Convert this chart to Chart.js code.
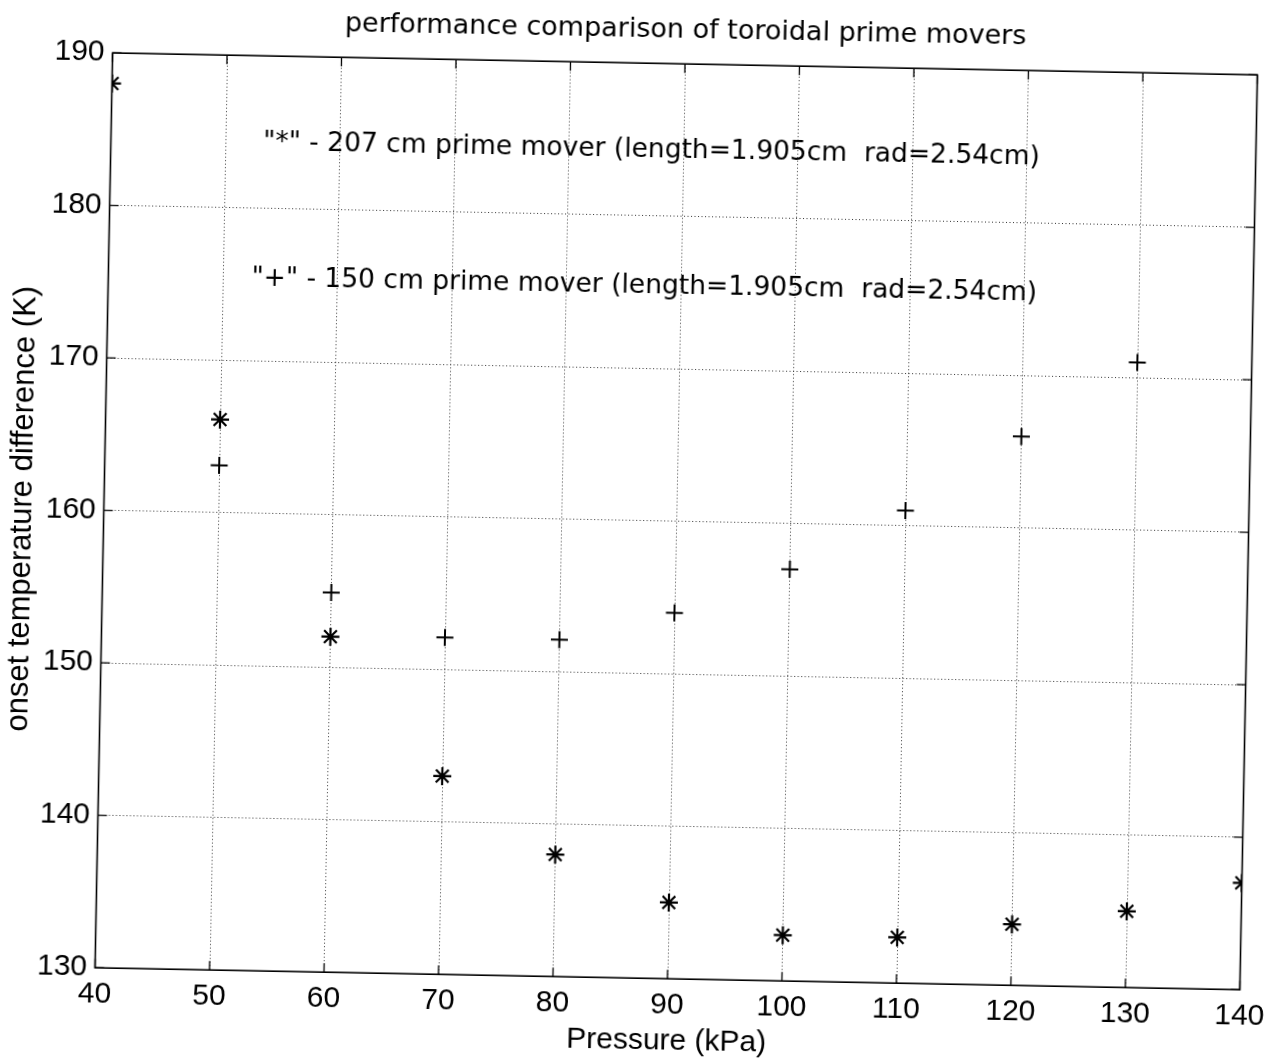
<!DOCTYPE html>
<html>
<head>
<meta charset="utf-8">
<title>performance comparison of toroidal prime movers</title>
<script src="https://cdn.jsdelivr.net/npm/chart.js@4"></script>
<style>
  html, body { margin: 0; padding: 0; background: #fff; overflow: hidden; }
  #wrap { position: absolute; left: 0; top: 0; width: 1284px; height: 1063px; }
  /* the scanned page is tilted a little */
  #perfChart { transform: rotate(1.1deg); transform-origin: 50% 50%; }
</style>
</head>
<body>
<div id="wrap"><canvas id="perfChart" width="1284" height="1063"></canvas></div>
<script>
// data
const pressureStar = [40, 50, 60, 70, 80, 90, 100, 110, 120, 130, 140];
const onsetStar = [188, 166.1, 152, 143, 138, 135, 133, 133, 134, 135, 137];
const pressurePlus = [50, 60, 70, 80, 90, 100, 110, 120, 130];
const onsetPlus = [163.1, 154.9, 152.1, 152.1, 154, 157, 161, 166, 171];
const xTicks = [40, 50, 60, 70, 80, 90, 100, 110, 120, 130, 140];
const yTicks = [130, 140, 150, 160, 170, 180, 190];

const titleText = 'performance comparison of toroidal prime movers';
const noteStar = '"*" - 207 cm prime mover (length=1.905cm  rad=2.54cm)';
const notePlus = '"+" - 150 cm prime mover (length=1.905cm  rad=2.54cm)';

document.addEventListener("DOMContentLoaded", function() {

    // box, inward ticks, title and the two text notes (matlab style)
    const matlabAxes = {
        id: 'matlabAxes',
        afterDraw(chart) {
            const ctx = chart.ctx;
            const a = chart.chartArea;
            const xs = chart.scales.x;
            const ys = chart.scales.y;
            ctx.save();
            ctx.setLineDash([]);
            ctx.strokeStyle = '#000';
            ctx.lineWidth = 1.6;
            ctx.strokeRect(a.left, a.top, a.right - a.left, a.bottom - a.top);

            ctx.lineWidth = 1.3;
            ctx.beginPath();
            xTicks.forEach(function(v) {
                const px = xs.getPixelForValue(v);
                ctx.moveTo(px, a.bottom); ctx.lineTo(px, a.bottom - 9);
                ctx.moveTo(px, a.top); ctx.lineTo(px, a.top + 9);
            });
            yTicks.forEach(function(v) {
                const py = ys.getPixelForValue(v);
                ctx.moveTo(a.left, py); ctx.lineTo(a.left + 9, py);
                ctx.moveTo(a.right, py); ctx.lineTo(a.right - 9, py);
            });
            ctx.stroke();

            ctx.fillStyle = '#000';
            ctx.font = '27px "DejaVu Sans"';
            ctx.textAlign = 'center';
            ctx.textBaseline = 'alphabetic';
            ctx.fillText(titleText, (a.left + a.right) / 2, 37);

            ctx.font = '26.5px "DejaVu Sans"';
            ctx.textAlign = 'left';
            ctx.fillText(noteStar, xs.getPixelForValue(53.3), ys.getPixelForValue(183.82));
            ctx.fillText(notePlus, xs.getPixelForValue(52.5), ys.getPixelForValue(174.92));
            ctx.restore();
        }
    };

    const tickFont = { family: '"Liberation Sans", Arial, sans-serif', size: 30 };

    var perfChart = new Chart(document.getElementById('perfChart'), {
        type: 'scatter',
        data: {
            datasets: [{
                label: '207 cm',
                data: pressureStar.map(function(p, i) { return { x: p, y: onsetStar[i] }; }),
                pointStyle: 'star',
                pointRadius: 9,
                borderColor: '#000',
                backgroundColor: '#000',
                pointBorderWidth: 2.2,
                showLine: false,
                clip: 0
            }, {
                label: '150 cm',
                data: pressurePlus.map(function(p, i) { return { x: p, y: onsetPlus[i] }; }),
                pointStyle: 'cross',
                pointRadius: 8.5,
                borderColor: '#000',
                backgroundColor: '#000',
                pointBorderWidth: 2,
                showLine: false,
                clip: 0
            }]
        },
        options: {
            responsive: false,
            devicePixelRatio: 1,
            animation: false,
            events: [],
            layout: { padding: { top: 63.2, right: 35.5, left: 0, bottom: 0 } },
            plugins: {
                legend: { display: false },
                tooltip: { enabled: false }
            },
            scales: {
                x: {
                    type: 'linear',
                    position: 'bottom',
                    min: 40,
                    max: 140,
                    afterBuildTicks: function(scale) {
                        scale.ticks = xTicks.map(function(v) { return { value: v }; });
                    },
                    afterFit: function(scale) { scale.height = 84.8; },
                    ticks: { font: tickFont, color: '#000', padding: 9, autoSkip: false, maxRotation: 0 },
                    grid: { color: 'rgba(0,0,0,0.8)', lineWidth: 1, drawTicks: false },
                    border: { display: false, dash: [1, 2.5] },
                    title: {
                        display: true,
                        text: 'Pressure (kPa)',
                        color: '#000',
                        font: { family: '"Liberation Sans", Arial, sans-serif', size: 30 },
                        padding: { top: 0, bottom: 4.7 }
                    }
                },
                y: {
                    type: 'linear',
                    min: 130,
                    max: 190,
                    afterBuildTicks: function(scale) {
                        scale.ticks = yTicks.map(function(v) { return { value: v }; });
                    },
                    afterFit: function(scale) { scale.width = 103.5; },
                    ticks: { font: tickFont, color: '#000', padding: 8 },
                    grid: { color: 'rgba(0,0,0,0.8)', lineWidth: 1, drawTicks: false },
                    border: { display: false, dash: [1, 2.5] },
                    title: {
                        display: true,
                        text: 'onset temperature difference (K)',
                        color: '#000',
                        font: { family: '"Liberation Sans", Arial, sans-serif', size: 31 },
                        padding: { top: 3.7, bottom: 0 }
                    }
                }
            }
        },
        plugins: [matlabAxes]
    });
});
</script>
</body>
</html>
